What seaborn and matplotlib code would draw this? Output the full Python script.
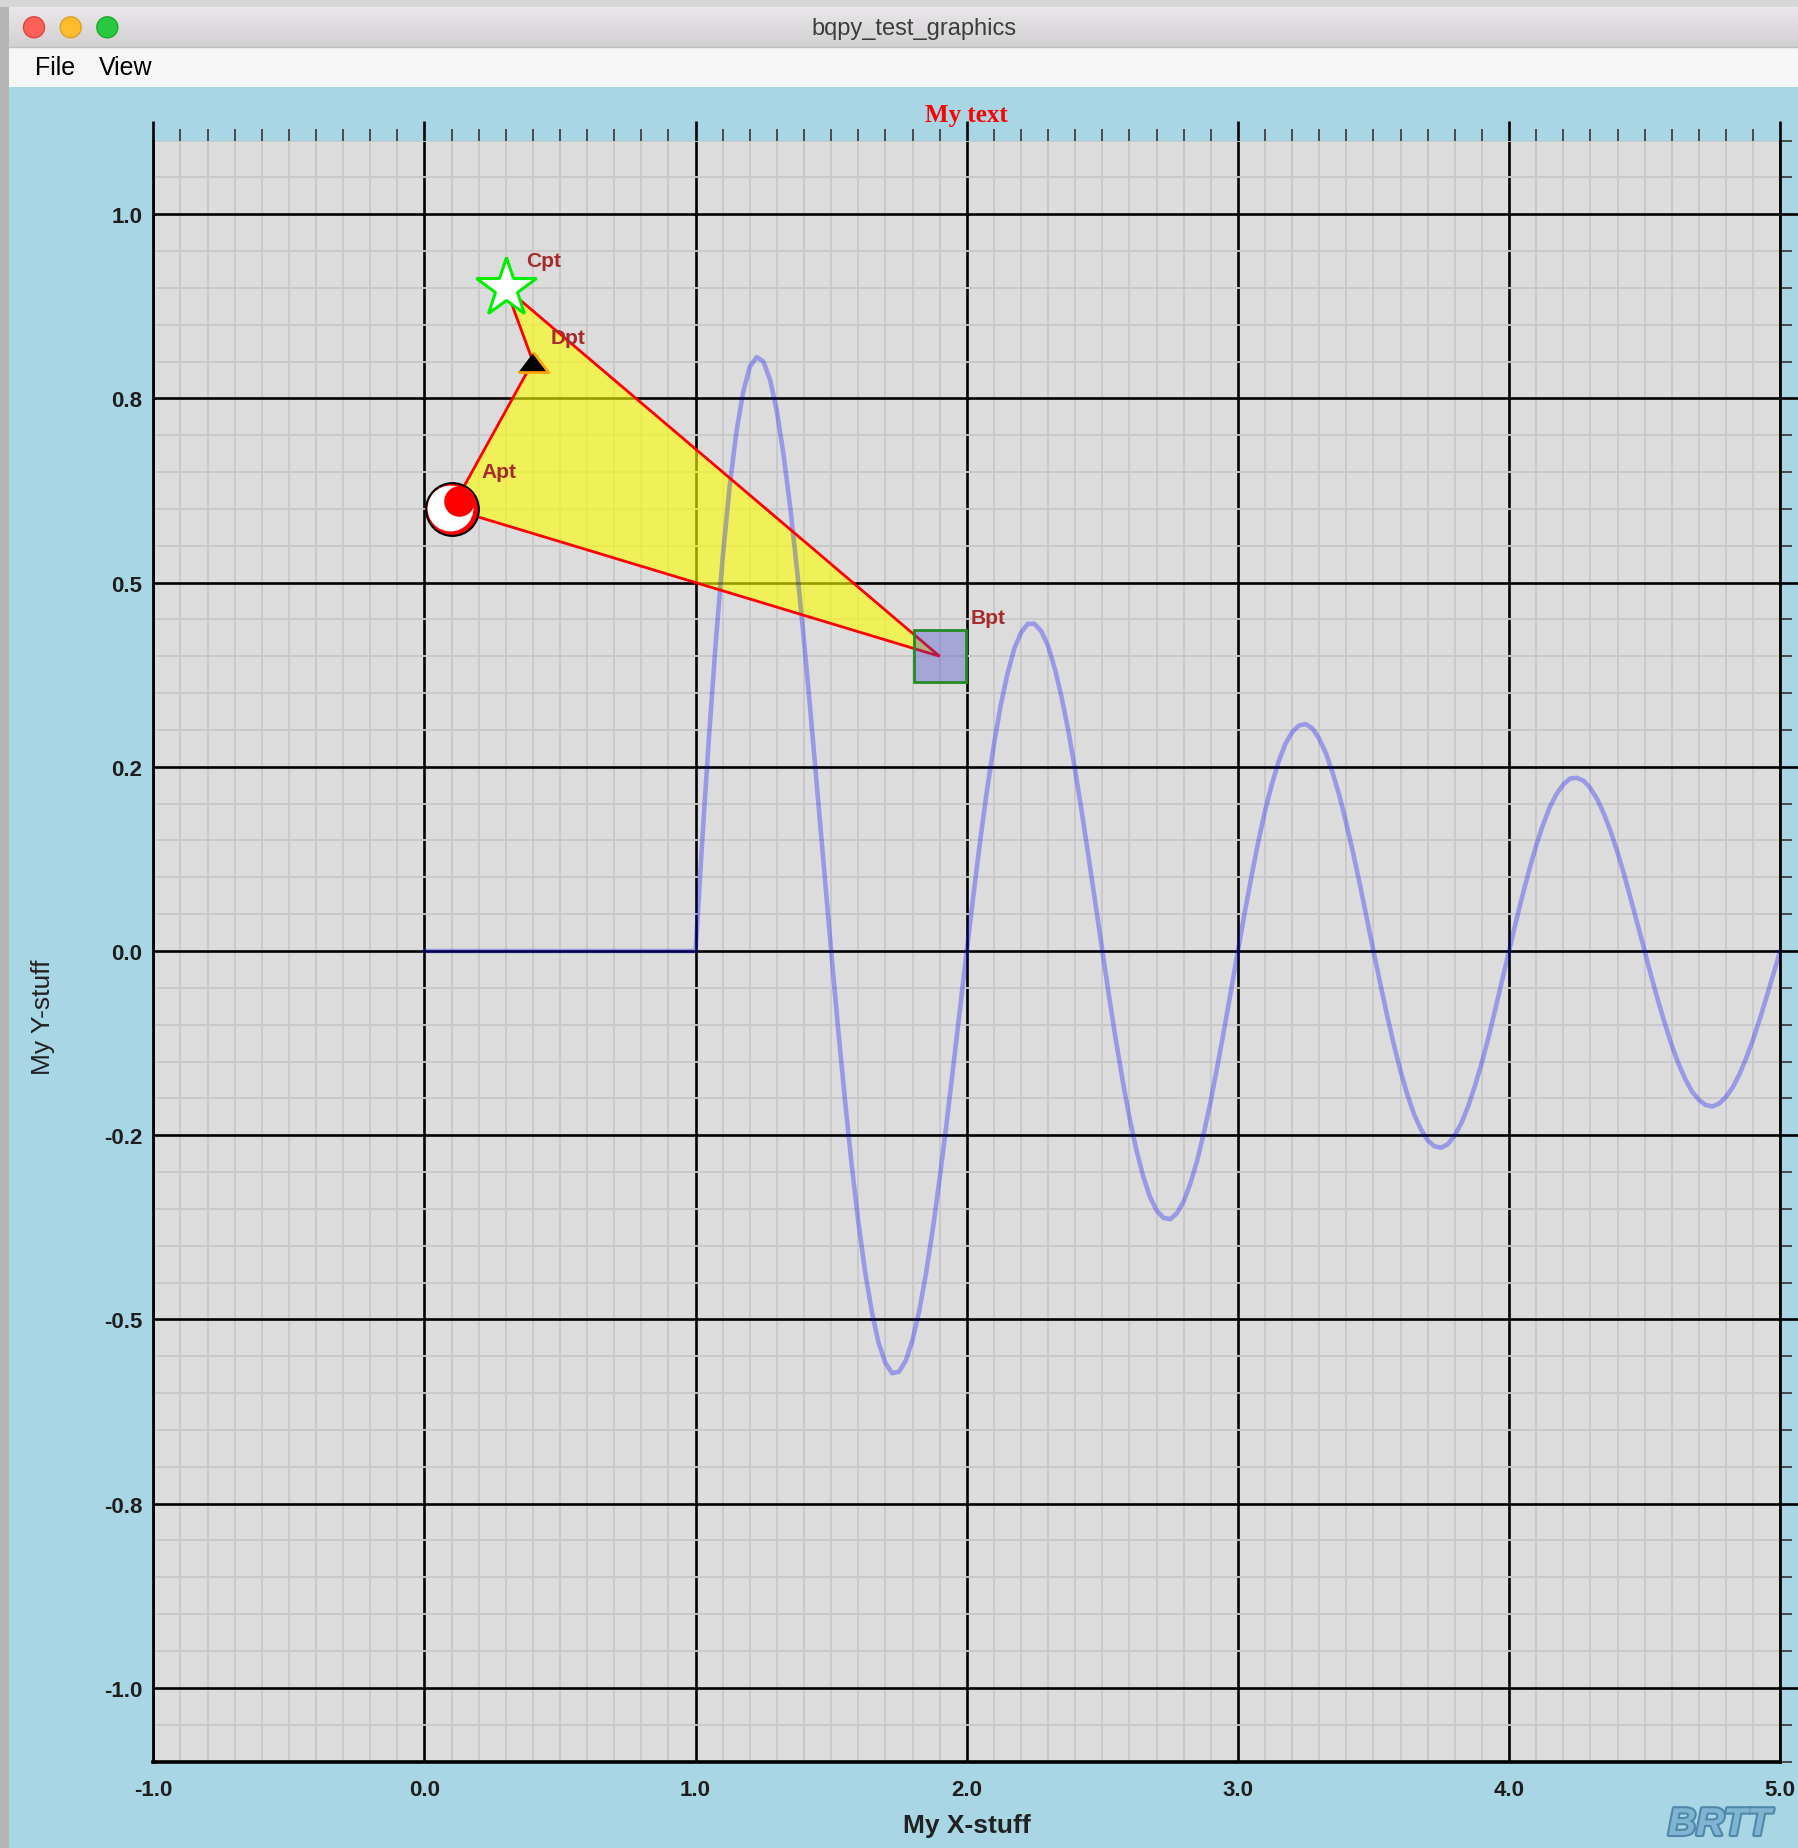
import numpy as np
import matplotlib
matplotlib.use("Agg")
import matplotlib.pyplot as plt
import matplotlib.transforms as mtransforms
import matplotlib.patheffects as pe
from matplotlib.patches import Rectangle, Circle
from matplotlib.colors import LinearSegmentedColormap
from matplotlib.ticker import MultipleLocator, FormatStrFormatter
import seaborn as sns

# === DATA ===
# polygon corners, in drawing order A -> D -> C -> B
point_names = ["Apt", "Dpt", "Cpt", "Bpt"]
point_x = [0.1, 0.4, 0.3, 1.9]
point_y = [0.6, 0.8, 0.9, 0.4]

# damped wave (flat from 0 to 1, then oscillating)
curve_x = [0.0,
           1.000, 1.025, 1.050, 1.075, 1.100, 1.125, 1.150, 1.175, 1.200, 1.225,
           1.250, 1.275, 1.300, 1.325, 1.350, 1.375, 1.400, 1.425, 1.450, 1.475,
           1.500, 1.525, 1.550, 1.575, 1.600, 1.625, 1.650, 1.675, 1.700, 1.725,
           1.750, 1.775, 1.800, 1.825, 1.850, 1.875, 1.900, 1.925, 1.950, 1.975,
           2.000, 2.025, 2.050, 2.075, 2.100, 2.125, 2.150, 2.175, 2.200, 2.225,
           2.250, 2.275, 2.300, 2.325, 2.350, 2.375, 2.400, 2.425, 2.450, 2.475,
           2.500, 2.525, 2.550, 2.575, 2.600, 2.625, 2.650, 2.675, 2.700, 2.725,
           2.750, 2.775, 2.800, 2.825, 2.850, 2.875, 2.900, 2.925, 2.950, 2.975,
           3.000, 3.025, 3.050, 3.075, 3.100, 3.125, 3.150, 3.175, 3.200, 3.225,
           3.250, 3.275, 3.300, 3.325, 3.350, 3.375, 3.400, 3.425, 3.450, 3.475,
           3.500, 3.525, 3.550, 3.575, 3.600, 3.625, 3.650, 3.675, 3.700, 3.725,
           3.750, 3.775, 3.800, 3.825, 3.850, 3.875, 3.900, 3.925, 3.950, 3.975,
           4.000, 4.025, 4.050, 4.075, 4.100, 4.125, 4.150, 4.175, 4.200, 4.225,
           4.250, 4.275, 4.300, 4.325, 4.350, 4.375, 4.400, 4.425, 4.450, 4.475,
           4.500, 4.525, 4.550, 4.575, 4.600, 4.625, 4.650, 4.675, 4.700, 4.725,
           4.750, 4.775, 4.800, 4.825, 4.850, 4.875, 4.900, 4.925, 4.950, 4.975,
           5.000]
curve_y = [0.0,
           0.000, 0.153, 0.294, 0.422, 0.534, 0.629, 0.703, 0.758, 0.793, 0.806,
           0.800, 0.775, 0.732, 0.672, 0.599, 0.514, 0.420, 0.319, 0.213, 0.106,
           0.000, -0.103, -0.199, -0.288, -0.367, -0.435, -0.490, -0.532, -0.559, -0.573,
           -0.571, -0.556, -0.528, -0.488, -0.437, -0.377, -0.309, -0.236, -0.158, -0.079,
           0.000, 0.077, 0.151, 0.219, 0.280, 0.333, 0.376, 0.410, 0.432, 0.444,
           0.444, 0.434, 0.414, 0.383, 0.344, 0.298, 0.245, 0.187, 0.126, 0.063,
           0.000, -0.062, -0.121, -0.176, -0.226, -0.269, -0.305, -0.333, -0.352, -0.362,
           -0.364, -0.356, -0.340, -0.315, -0.284, -0.246, -0.203, -0.155, -0.105, -0.053,
           0.000, 0.052, 0.101, 0.148, 0.190, 0.226, 0.257, 0.281, 0.297, 0.306,
           0.308, 0.302, 0.288, 0.268, 0.241, 0.210, 0.173, 0.133, 0.090, 0.045,
           0.000, -0.044, -0.087, -0.127, -0.163, -0.195, -0.222, -0.242, -0.257, -0.265,
           -0.267, -0.262, -0.250, -0.233, -0.210, -0.182, -0.151, -0.116, -0.078, -0.039,
           0.000, 0.039, 0.076, 0.111, 0.143, 0.171, 0.195, 0.213, 0.226, 0.234,
           0.235, 0.231, 0.221, 0.206, 0.186, 0.162, 0.134, 0.103, 0.069, 0.035,
           0.000, -0.035, -0.068, -0.099, -0.128, -0.153, -0.174, -0.191, -0.202, -0.209,
           -0.211, -0.207, -0.198, -0.185, -0.167, -0.145, -0.120, -0.092, -0.062, -0.031,
           0.000]

x_limits = (-1.0, 5.0)
y_limits = (-1.1, 1.1)

# label offsets (points) from each marker
label_offsets = {"Apt": (21.6, 27.0), "Dpt": (12.5, 17.0),
                 "Cpt": (14.4, 20.0), "Bpt": (22.0, 27.6)}

# === STYLE ===
sns.set_theme(style="white")
plt.rcParams["font.family"] = ["Liberation Sans", "DejaVu Sans"]

W, H = 1799, 1849
fig = plt.figure(figsize=(W / 100, H / 100), dpi=100)
fig.patch.set_facecolor("#b5b5b5")

# --- window chrome (pixel coordinates, origin top-left) ---
bg = fig.add_axes([0, 0, 1, 1])
bg.axis("off")
bg.add_patch(Rectangle((0, 0), W, 8, color="#d6d6d6", lw=0))
tb_cmap = LinearSegmentedColormap.from_list("tb", ["#e9e7e9", "#d2d0d2"])
bg.imshow(np.linspace(0, 1, 40).reshape(-1, 1), extent=(9, W, 48, 8),
          cmap=tb_cmap, aspect="auto")
bg.add_patch(Rectangle((9, 48), W - 9, 40, color="#f6f6f6", lw=0))
bg.plot([9, W], [48, 48], color="#c0c0c0", lw=1)
bg.add_patch(Rectangle((9, 88), W - 9, H - 88, color="#a9d6e5", lw=0))
for cx, fc, ec in [(34, "#fe5f57", "#e0443e"), (70.7, "#febc2e", "#dea123"),
                   (107.3, "#28c840", "#1aab29")]:
    bg.add_patch(Circle((cx, 28.3), 10.5, facecolor=fc, edgecolor=ec, lw=1))
bg.text(913.6, 28.5, "bqpy_test_graphics", ha="center", va="center",
        fontsize=17, color="#3c3c3c")
bg.text(35, 68, "File", ha="left", va="center", fontsize=18, color="black")
bg.text(99, 68, "View", ha="left", va="center", fontsize=18, color="black")
bg.text(1668, 1836, "BRTT", ha="left", va="baseline", fontsize=28,
        fontweight="bold", fontstyle="italic", color="#80b5d2",
        path_effects=[pe.withStroke(linewidth=3, foreground="#4f88a8")])
bg.set_xlim(0, W)
bg.set_ylim(H, 0)

# --- plot area ---
ax = fig.add_axes([0.08521, 0.04678, 0.90434, 0.87669])
ax.set_facecolor("#dcdcdc")
ax.set_xlim(*x_limits)
ax.set_ylim(*y_limits)
ax.xaxis.set_major_locator(MultipleLocator(1.0))
ax.xaxis.set_minor_locator(MultipleLocator(0.1))
ax.yaxis.set_major_locator(MultipleLocator(0.25))
ax.yaxis.set_minor_locator(MultipleLocator(0.05))
ax.xaxis.set_major_formatter(FormatStrFormatter("%.1f"))
ax.yaxis.set_major_formatter(FormatStrFormatter("%.1f"))
ax.grid(which="major", color="black", lw=1.9)
ax.grid(which="minor", color="#c8c8c8", lw=1.3)
ax.set_axisbelow(True)

ax.spines["top"].set_visible(False)
for side, lw in [("left", 2.0), ("bottom", 2.6), ("right", 2.0)]:
    ax.spines[side].set_color("black")
    ax.spines[side].set_linewidth(lw)

ax.tick_params(which="major", length=0, labelsize=16, labelcolor="#1e1e1e")
ax.tick_params(axis="x", which="major", pad=12.5)
ax.tick_params(axis="y", which="major", pad=8)
ax.tick_params(which="minor", direction="in", color="#3a3a3a", width=1.4)
ax.tick_params(axis="x", which="minor", length=6.5)
ax.tick_params(axis="y", which="minor", length=8)

# ticks that stick out on top and right
secx = ax.secondary_xaxis("top")
secx.xaxis.set_major_locator(MultipleLocator(1.0))
secx.xaxis.set_minor_locator(MultipleLocator(0.1))
secx.tick_params(which="both", direction="out", labeltop=False)
secx.tick_params(which="major", length=14.5, width=1.9, color="black")
secx.tick_params(which="minor", length=8.6, width=1.4, color="#4a4a4a")
secy = ax.secondary_yaxis("right")
secy.yaxis.set_major_locator(MultipleLocator(0.25))
secy.yaxis.set_minor_locator(MultipleLocator(0.05))
secy.tick_params(which="both", direction="out", labelright=False)
secy.tick_params(which="major", length=14.5, width=1.9, color="black")
secy.tick_params(which="minor", length=8.6, width=1.4, color="#4a4a4a")
for sec in (secx, secy):
    for s in sec.spines.values():
        s.set_visible(False)

# polygon fill, wave, polygon outline
ax.fill(point_x, point_y, facecolor=(1, 1, 0, 0.6), edgecolor="none", zorder=3)
sns.lineplot(x=curve_x, y=curve_y, ax=ax, color="blue", alpha=0.3,
             linewidth=3.3, sort=False, estimator=None, zorder=4,
             solid_joinstyle="round", solid_capstyle="round")
ax.plot(point_x + point_x[:1], point_y + point_y[:1], color="red", lw=2,
        solid_joinstyle="miter", zorder=5)

# markers
ia, idd, ic, ib = 0, 1, 2, 3
ax.plot(point_x[ia], point_y[ia], "o", ms=38, mfc="red", mec="black", mew=1.5, zorder=6)
shift_w = mtransforms.offset_copy(ax.transData, fig=fig, x=-2, y=1, units="dots")
ax.plot(point_x[ia], point_y[ia], "o", ms=33, mfc="white", mec="none",
        transform=shift_w, zorder=6.1)
shift_r = mtransforms.offset_copy(ax.transData, fig=fig, x=7, y=8, units="dots")
ax.plot(point_x[ia], point_y[ia], "o", ms=22, mfc="red", mec="none",
        transform=shift_r, zorder=6.2)

tri = [(-1, -0.66), (1, -0.66), (0, 0.66)]
ax.plot(point_x[idd], point_y[idd], marker=tri, ms=22, mfc="black",
        mec="#ffa500", mew=2, linestyle="none", zorder=6)
ax.plot(point_x[ic], point_y[ic], "*", ms=45, mfc="white", mec="#00ee00",
        mew=2.2, zorder=6)
ax.plot(point_x[ib], point_y[ib], "s", ms=38, mfc=(0.25, 0.25, 0.8, 0.35),
        mec="#228b22", mew=2, zorder=6)

for name, x, y in zip(point_names, point_x, point_y):
    ax.annotate(name, xy=(x, y), xytext=label_offsets[name],
                textcoords="offset points", ha="left", va="center",
                fontsize=15, fontweight="bold", color="#a82a2a", zorder=7)

ax.annotate("My text", xy=(2.0, 1.0), xycoords=("data", "axes fraction"),
            xytext=(0, 18.7), textcoords="offset points", ha="center",
            va="center", fontsize=18, fontweight="bold", color="red",
            family=["Liberation Serif", "DejaVu Serif"], annotation_clip=False)

ax.set_xlabel("My X-stuff", fontsize=19, fontweight="bold", color="#222222", va="center")
ax.xaxis.set_label_coords(0.5, -0.0392)
ax.set_ylabel("My Y-stuff", fontsize=19, color="#222222", va="center")
ax.yaxis.set_label_coords(-0.0678, 0.46)

plt.setp(ax.get_xticklabels() + ax.get_yticklabels(), fontweight="bold")

fig.savefig("out.png", dpi=100, facecolor=fig.get_facecolor())
